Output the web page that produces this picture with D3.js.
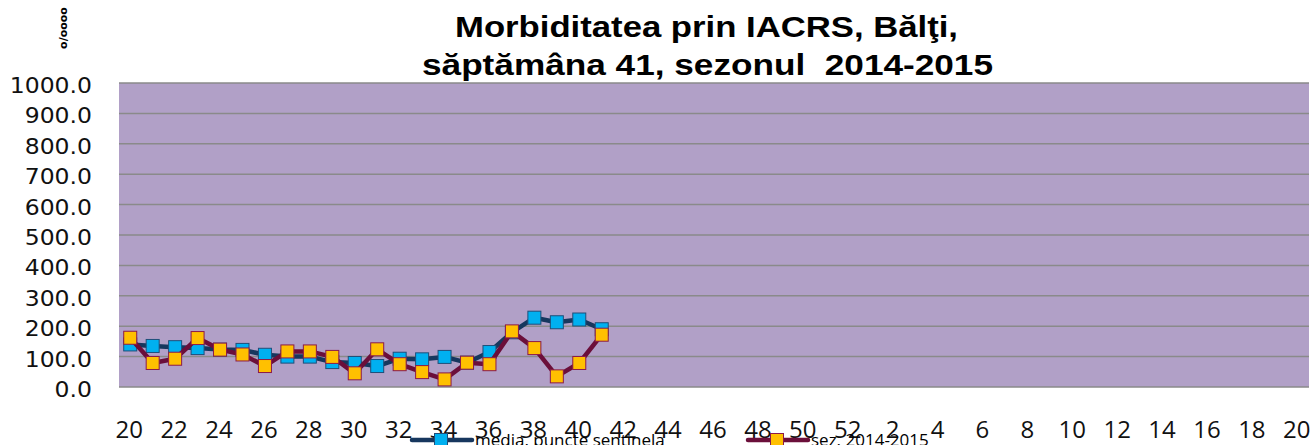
<!DOCTYPE html>
<html>
<head>
<meta charset="utf-8">
<script src="https://cdn.jsdelivr.net/npm/d3@7"></script>
<style>
  body { margin: 0; background: #fff; }
  svg { display: block; }
</style>
</head>
<body>
<svg id="chart" width="1315" height="445"></svg>
<script>
const weeks = ["20","21","22","23","24","25","26","27","28","29","30","31","32","33","34","35","36","37","38","39","40",
  "41","42","43","44","45","46","47","48","49","50","51","52","1","2","3","4","5","6","7","8","9","10","11","12","13",
  "14","15","16","17","18","19","20"];
const media = [140, 135, 131, 128, 123, 122, 106, 100, 100, 82, 79, 69, 93, 91, 99, 80, 115, 180, 228, 213, 222, 190];
const sezon = [162, 79, 93, 161, 123, 107, 69, 117, 117, 99, 45, 124, 75, 49, 25, 80, 75, 183, 128, 35, 79, 172];
const yTicks = [0, 100, 200, 300, 400, 500, 600, 700, 800, 900, 1000];
const titleLines = ["Morbiditatea prin IACRS, Bălţi,", "săptămâna 41, sezonul  2014-2015"];
const seriesNames = ["media, puncte sentinela", "sez. 2014-2015"];

const svg = d3.select("#chart");
const margin = { left: 119, right: 6, top: 83, bottom: 58 };
const width = 1315, height = 445;

const x = d3.scaleBand()
  .domain(d3.range(weeks.length))
  .range([margin.left, width - margin.right])
  .padding(0);
const y = d3.scaleLinear()
  .domain([0, 1000])
  .range([height - margin.bottom, margin.top]);

// plot background
svg.append("rect")
  .attr("x", margin.left)
  .attr("y", margin.top)
  .attr("width", width - margin.right - margin.left)
  .attr("height", y(0) - margin.top)
  .attr("fill", "#b1a0c7");

// grid lines
svg.selectAll(".grid")
  .data(yTicks)
  .enter()
  .append("line")
  .attr("class", "grid")
  .attr("x1", margin.left)
  .attr("x2", width - margin.right)
  .attr("y1", d => y(d))
  .attr("y2", d => y(d))
  .attr("stroke", "#8a8a8a")
  .attr("stroke-width", 1.5);

// y tick labels (slightly wide, like the original)
svg.selectAll(".ytick")
  .data(yTicks)
  .enter()
  .append("text")
  .attr("class", "ytick")
  .attr("transform", d => `translate(92,${y(d) + 10}) scale(1.12,1)`)
  .attr("text-anchor", "end")
  .style("font-family", "DejaVu Sans")
  .style("font-size", "21px")
  .attr("fill", "#111")
  .text(d => d3.format(".1f")(d));

// x tick labels
svg.selectAll(".xtick")
  .data(weeks.map((w, i) => ({ w, i })).filter(d => d.i % 2 === 0))
  .enter()
  .append("text")
  .attr("class", "xtick")
  .attr("x", d => x(d.i) + x.bandwidth() / 2 - 1)
  .attr("y", 438)
  .attr("text-anchor", "middle")
  .style("font-family", "Open Sans")
  .style("font-size", "24px")
  .attr("fill", "#111")
  .text(d => d.w);

// unit label
svg.append("text")
  .attr("transform", "translate(67,28) rotate(-90)")
  .attr("text-anchor", "middle")
  .style("font-family", "DejaVu Sans")
  .style("font-size", "11px")
  .style("font-weight", "bold")
  .text("o/oooo");

// title
const titleX = [455, 422], titleW = [503, 571], titleY = [37, 75];
svg.selectAll(".title")
  .data(titleLines)
  .enter()
  .append("text")
  .attr("class", "title")
  .attr("x", (d, i) => titleX[i])
  .attr("y", (d, i) => titleY[i])
  .attr("textLength", (d, i) => titleW[i])
  .attr("lengthAdjust", "spacingAndGlyphs")
  .style("white-space", "pre")
  .style("font-family", "Liberation Sans")
  .style("font-weight", "bold")
  .style("font-size", "29px")
  .text(d => d);

const series = [
  { name: seriesNames[0], values: media, line: "#17375e", fill: "#00b0f0", stroke: "#1f4e79" },
  { name: seriesNames[1], values: sezon, line: "#6b0f3a", fill: "#ffc000", stroke: "#8b1a4a" }
];

const line = d3.line()
  .defined(d => d != null)
  .x((d, i) => x(i) + x.bandwidth() / 2)
  .y(d => y(d));

const ms = 13;
series.forEach(s => {
  svg.append("path")
    .datum(s.values)
    .attr("d", line)
    .attr("fill", "none")
    .attr("stroke", s.line)
    .attr("stroke-width", 4.5)
    .attr("stroke-linejoin", "round");
  svg.selectAll(null)
    .data(s.values)
    .enter()
    .append("rect")
    .attr("x", (d, i) => x(i) + x.bandwidth() / 2 - ms / 2)
    .attr("y", d => y(d) - ms / 2)
    .attr("width", ms)
    .attr("height", ms)
    .attr("fill", s.fill)
    .attr("stroke", s.stroke)
    .attr("stroke-width", 1);
});

// legend
const legendX = [412, 748];
series.forEach((s, k) => {
  const g = svg.append("g").attr("transform", `translate(${legendX[k]},440)`);
  g.append("line")
    .attr("x1", 0).attr("x2", 60)
    .attr("y1", 0).attr("y2", 0)
    .attr("stroke", s.line)
    .attr("stroke-width", 4.5)
    .attr("stroke-linecap", "round");
  g.append("rect")
    .attr("x", 29 - ms / 2).attr("y", -ms / 2)
    .attr("width", ms).attr("height", ms)
    .attr("fill", s.fill)
    .attr("stroke", s.stroke);
  g.append("text")
    .attr("x", 63)
    .attr("y", 6)
    .style("font-family", "Open Sans")
    .style("font-size", "17px")
    .text(s.name);
});
</script>
</body>
</html>
